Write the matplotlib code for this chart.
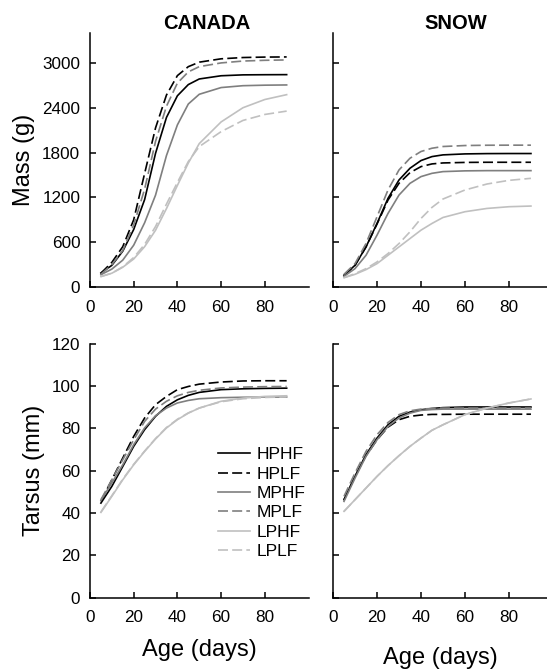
import matplotlib
matplotlib.use("Agg")
from matplotlib import pyplot as plt

plt.rcParams['font.family'] = ['Liberation Sans', 'DejaVu Sans']

age = [5, 10, 15, 20, 25, 30, 35, 40, 45, 50, 60, 70, 80, 90]
groups = ['HPHF', 'HPLF', 'MPHF', 'MPLF', 'LPHF', 'LPLF']

# mass (g), Canada
can_mass_hphf = [187, 290, 480, 770, 1170, 1790, 2270, 2560, 2710, 2785, 2828, 2840, 2842, 2843]
can_mass_hplf = [185, 330, 540, 900, 1520, 2130, 2570, 2830, 2950, 3010, 3055, 3072, 3078, 3080]
can_mass_mphf = [165, 240, 360, 560, 860, 1230, 1760, 2170, 2450, 2580, 2670, 2695, 2702, 2705]
can_mass_mplf = [170, 300, 490, 830, 1310, 1950, 2420, 2730, 2880, 2950, 3000, 3025, 3035, 3040]
can_mass_lphf = [140, 185, 265, 375, 540, 760, 1050, 1360, 1660, 1920, 2210, 2400, 2510, 2575]
can_mass_lplf = [140, 185, 270, 395, 570, 810, 1110, 1400, 1680, 1880, 2080, 2230, 2310, 2355]

# mass (g), Snow
snow_mass_hphf = [157, 291, 537, 851, 1187, 1433, 1590, 1693, 1746, 1769, 1782, 1786, 1787, 1787]
snow_mass_hplf = [157, 291, 537, 842, 1164, 1388, 1531, 1612, 1648, 1661, 1668, 1670, 1670, 1670]
snow_mass_mphf = [143, 246, 425, 694, 985, 1231, 1388, 1478, 1522, 1545, 1555, 1558, 1558, 1558]
snow_mass_mplf = [170, 313, 582, 940, 1299, 1567, 1724, 1814, 1858, 1881, 1894, 1898, 1899, 1899]
snow_mass_lphf = [125, 170, 233, 313, 425, 537, 649, 761, 851, 931, 1008, 1052, 1075, 1084]
snow_mass_lplf = [125, 179, 246, 336, 448, 582, 739, 918, 1066, 1178, 1299, 1379, 1428, 1455]

# tarsus (mm), Canada
can_tars_hphf = [44.7, 52.6, 62.0, 71.5, 79.4, 85.7, 90.4, 93.5, 95.6, 97.0, 98.3, 98.7, 98.9, 99.0]
can_tars_hplf = [45.5, 55.7, 66.0, 76.2, 84.9, 91.2, 95.1, 98.3, 99.8, 100.9, 101.9, 102.4, 102.5, 102.5]
can_tars_mphf = [46.0, 54.2, 62.8, 72.3, 80.2, 86.0, 89.6, 92.0, 93.2, 94.0, 94.5, 94.7, 94.8, 94.8]
can_tars_mplf = [46.3, 55.7, 65.2, 74.6, 83.3, 89.1, 92.8, 95.4, 97.0, 98.0, 99.1, 99.5, 99.7, 99.8]
can_tars_lphf = [40.3, 47.9, 55.7, 62.8, 69.1, 75.0, 80.2, 84.1, 87.2, 89.6, 92.8, 94.3, 95.1, 95.4]
can_tars_lplf = [40.5, 48.2, 56.0, 63.0, 69.3, 75.2, 80.4, 84.3, 87.3, 89.6, 92.6, 94.0, 94.6, 94.9]

# tarsus (mm), Snow
snow_tars_hphf = [46.3, 57.3, 67.6, 75.4, 81.7, 85.7, 87.7, 88.8, 89.4, 89.8, 90.1, 90.1, 90.1, 90.1]
snow_tars_hplf = [46.3, 57.3, 67.1, 74.6, 80.6, 84.1, 85.7, 86.3, 86.6, 86.6, 86.7, 86.7, 86.7, 86.7]
snow_tars_mphf = [45.5, 56.5, 66.8, 74.6, 80.9, 84.9, 87.2, 88.5, 88.9, 89.1, 89.1, 89.1, 89.1, 89.1]
snow_tars_mplf = [47.9, 58.9, 69.1, 77.0, 82.8, 86.5, 88.3, 89.1, 89.4, 89.6, 89.6, 89.6, 89.6, 89.6]
snow_tars_lphf = [40.8, 46.3, 51.8, 57.3, 62.4, 67.1, 71.5, 75.4, 79.1, 81.7, 86.5, 89.6, 92.0, 93.9]
snow_tars_lplf = [40.8, 46.3, 51.8, 57.3, 62.4, 67.1, 71.5, 75.4, 79.1, 81.7, 86.5, 89.6, 92.0, 93.9]

# line style per group
col = {'H': 'black', 'M': '#7f7f7f', 'L': '#c0c0c0'}
dash = (0, (6, 2.5))


def draw(ax, series):
    for g, y in zip(groups, series):
        ls = '-' if g.endswith('HF') else dash
        ax.plot(age, y, color=col[g[0]], linestyle=ls, lw=1.2, label=g)


def style(ax, ylim, yticks, ylabels, xmax):
    ax.set_xlim(0, xmax)
    ax.set_ylim(*ylim)
    ax.set_xticks([0, 20, 40, 60, 80])
    ax.set_yticks(yticks)
    if not ylabels:
        ax.set_yticklabels([])
    for s in ['top', 'right']:
        ax.spines[s].set_visible(False)
    for s in ['left', 'bottom']:
        ax.spines[s].set_linewidth(1.1)
    ax.tick_params(direction='in', length=4, width=1.1, labelsize=12.3)
    ax.tick_params(axis='x', pad=9)
    ax.tick_params(axis='y', pad=7)


fig = plt.figure(figsize=(5.47, 6.70), dpi=100)
ax1 = fig.add_axes([0.1645, 0.5716, 0.3995, 0.3791])
ax2 = fig.add_axes([0.6088, 0.5716, 0.3912, 0.3791])
ax3 = fig.add_axes([0.1645, 0.1079, 0.3995, 0.3791])
ax4 = fig.add_axes([0.6088, 0.1079, 0.3912, 0.3791])

draw(ax1, [can_mass_hphf, can_mass_hplf, can_mass_mphf, can_mass_mplf, can_mass_lphf, can_mass_lplf])
draw(ax2, [snow_mass_hphf, snow_mass_hplf, snow_mass_mphf, snow_mass_mplf, snow_mass_lphf, snow_mass_lplf])
draw(ax3, [can_tars_hphf, can_tars_hplf, can_tars_mphf, can_tars_mplf, can_tars_lphf, can_tars_lplf])
draw(ax4, [snow_tars_hphf, snow_tars_hplf, snow_tars_mphf, snow_tars_mplf, snow_tars_lphf, snow_tars_lplf])

mass_ticks = [0, 600, 1200, 1800, 2400, 3000]
tars_ticks = [0, 20, 40, 60, 80, 100, 120]
style(ax1, (0, 3400), mass_ticks, True, 100)
style(ax2, (0, 3400), mass_ticks, False, 97.3)
style(ax3, (0, 120), tars_ticks, True, 100)
style(ax4, (0, 120), tars_ticks, False, 97.3)

# titles and axis labels
ax1.set_title('CANADA', fontsize=14.5, fontweight='bold', x=0.534, pad=3)
ax2.set_title('SNOW', fontsize=14.5, fontweight='bold', x=0.575, pad=3)
ax1.set_ylabel('Mass (g)', fontsize=17, labelpad=5)
ax3.set_ylabel('Tarsus (mm)', fontsize=17, labelpad=5)
ax3.set_xlabel('Age (days)', fontsize=17, labelpad=10)
ax4.set_xlabel('Age (days)', fontsize=17, labelpad=16)

ax3.legend(loc='upper left', bbox_to_anchor=(0.586, 0.592), frameon=False, fontsize=12.5,
           handlelength=1.85, handletextpad=0.4, labelspacing=0.24, borderpad=0, borderaxespad=0)

plt.savefig('out.png', dpi=100)
